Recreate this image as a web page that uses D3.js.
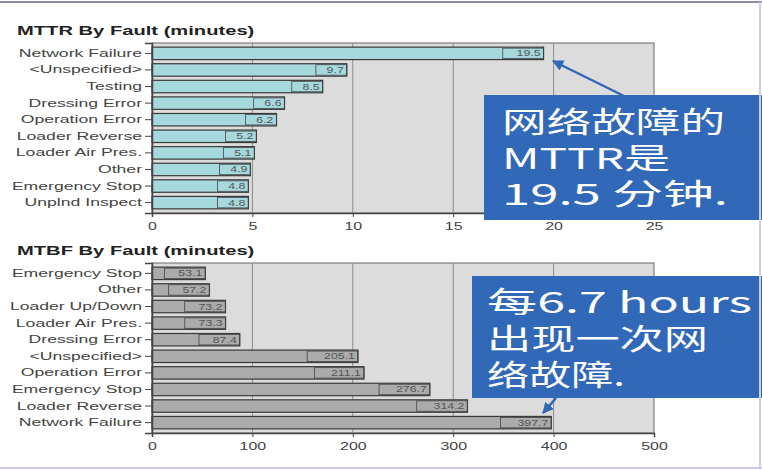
<!doctype html>
<html>
<head>
<meta charset="utf-8">
<style>
    body { margin: 0; background: #fff; }
    svg { display: block; }
    text { font-family: Arial, 'Liberation Sans', sans-serif; fill: #333; }
    text.title { font-size: 13px; font-weight: bold; fill: #222; }
    text.cat, .axis text { font-size: 11px; fill: #444; }
    text.val { font-size: 8.5px; fill: #555; }
    text.note { font-family: 'Noto Sans CJK SC', sans-serif; font-size: 29px; fill: #fff; }
    .grid line { stroke: #8a8a8a; stroke-width: 1; }
    .axis path, .axis line { stroke: #444; }
</style>
<script src="https://d3js.org/d3.v7.min.js"></script>
</head>
<body>
<svg width="762" height="470"></svg>
<script>
// MTTR chart (minutes)
const mttrCats = ['Network Failure', '<Unspecified>', 'Testing', 'Dressing Error', 'Operation Error',
                  'Loader Reverse', 'Loader Air Pres.', 'Other', 'Emergency Stop', 'Unplnd Inspect'];
const mttrVals = [19.5, 9.7, 8.5, 6.6, 6.2, 5.2, 5.1, 4.9, 4.8, 4.8];
const mttrTicks = [0, 5, 10, 15, 20, 25];

// MTBF chart (minutes)
const mtbfCats = ['Emergency Stop', 'Other', 'Loader Up/Down', 'Loader Air Pres.', 'Dressing Error',
                  '<Unspecified>', 'Operation Error', 'Emergency Stop', 'Loader Reverse', 'Network Failure'];
const mtbfVals = [53.1, 57.2, 73.2, 73.3, 87.4, 205.1, 211.1, 276.7, 314.2, 397.7];
const mtbfTicks = [0, 100, 200, 300, 400, 500];

const notes = [
    ['网络故障的', 'MTTR是', '19.5 分钟.'],
    ['每6.7 hours', '出现一次网', '络故障.']
];

const svg = d3.select('svg');
const stretch = 1.45;  // source picture is widened horizontally

function widen(sel, k) {
    sel.each(function () {
        const w = this.getComputedTextLength();
        d3.select(this).attr('textLength', w * (k || stretch)).attr('lengthAdjust', 'spacingAndGlyphs');
    });
}

function drawChart(opt) {
    const left = 152, right = 654;
    const x = d3.scaleLinear().domain([0, opt.max]).range([left, right]);
    const y = d3.scaleBand().domain(opt.cats.map((c, i) => i)).range([opt.top, opt.bottom]).padding(0.25);

    svg.append('text').attr('class', 'title')
        .attr('x', 17).attr('y', opt.top - 8)
        .text(opt.title).call(widen, 1.55);

    svg.append('rect')
        .attr('x', left).attr('y', opt.top)
        .attr('width', right - left).attr('height', opt.bottom - opt.top)
        .attr('fill', '#dcdcdc').attr('stroke', '#666');

    svg.append('g').attr('class', 'grid')
        .selectAll('line').data(opt.ticks.slice(1, -1)).join('line')
        .attr('x1', d => x(d)).attr('x2', d => x(d))
        .attr('y1', opt.top).attr('y2', opt.bottom);

    const bars = svg.append('g').selectAll('g').data(opt.vals).join('g');
    bars.append('rect')
        .attr('x', left).attr('y', (d, i) => y(i))
        .attr('width', d => x(d) - left).attr('height', y.bandwidth())
        .attr('fill', opt.fill).attr('stroke', '#3a3a3a').attr('stroke-width', 1.2);

    const vt = bars.append('text').attr('class', 'val')
        .attr('x', d => x(d) - 3).attr('y', (d, i) => y(i) + y.bandwidth() / 2 + 3)
        .attr('text-anchor', 'end')
        .text(d => d.toFixed(1)).call(widen);
    bars.insert('rect', 'text')
        .attr('x', function (d, i) { return x(d) - vt.nodes()[i].getComputedTextLength() * stretch - 6; })
        .attr('y', (d, i) => y(i) + 1)
        .attr('width', (d, i) => vt.nodes()[i].getComputedTextLength() * stretch + 6)
        .attr('height', y.bandwidth() - 2)
        .attr('fill', 'none').attr('stroke', '#444').attr('stroke-width', 0.8);

    const ya = svg.append('g').attr('class', 'axis')
        .attr('transform', `translate(${left},0)`)
        .call(d3.axisLeft(y).tickSize(7).tickPadding(3).tickFormat(i => opt.cats[i]));
    ya.selectAll('text').attr('class', 'cat').call(widen, 1.6);
    ya.select('.domain').attr('stroke-width', 1.5);

    const xa = svg.append('g').attr('class', 'axis')
        .attr('transform', `translate(0,${opt.bottom})`)
        .call(d3.axisBottom(x).tickValues(opt.ticks).tickSize(4).tickPadding(5));
    xa.select('.domain').attr('stroke-width', 1.5);
    xa.selectAll('text').call(widen);
}

drawChart({ title: 'MTTR By Fault (minutes)', cats: mttrCats, vals: mttrVals, ticks: mttrTicks,
            max: 25, top: 43, bottom: 213, fill: '#a6d9dd' });
drawChart({ title: 'MTBF By Fault (minutes)', cats: mtbfCats, vals: mtbfVals, ticks: mtbfTicks,
            max: 500, top: 263, bottom: 433, fill: '#ababab' });

// callouts
const blue = '#3168b8';
svg.append('defs').append('marker')
    .attr('id', 'head').attr('viewBox', '0 0 10 10')
    .attr('refX', 9).attr('refY', 5)
    .attr('markerWidth', 4.5).attr('markerHeight', 4.5)
    .attr('orient', 'auto')
    .append('path').attr('d', 'M0,0L10,5L0,10z').attr('fill', blue);

svg.append('line')
    .attr('x1', 624).attr('y1', 96).attr('x2', 553).attr('y2', 61)
    .attr('stroke', blue).attr('stroke-width', 2.5).attr('marker-end', 'url(#head)');
svg.append('line')
    .attr('x1', 556).attr('y1', 398).attr('x2', 543).attr('y2', 413)
    .attr('stroke', blue).attr('stroke-width', 2.5).attr('marker-end', 'url(#head)');

const boxes = [
    { x: 484, y: 95, h: 125, tx: 502, ty: [133, 169, 205], tw: [223, 168, 226] },
    { x: 472, y: 276, h: 122, tx: 487, ty: [313, 350, 386], tw: [265, 221, 138] }
];
boxes.forEach((b, k) => {
    svg.append('rect').attr('x', b.x).attr('y', b.y)
        .attr('width', 762 - b.x).attr('height', b.h).attr('fill', blue);
    notes[k].forEach((line, j) => {
        svg.append('text').attr('class', 'note')
            .attr('x', b.tx).attr('y', b.ty[j])
            .attr('textLength', b.tw[j]).attr('lengthAdjust', 'spacingAndGlyphs')
            .text(line);
    });
});

// frame
svg.append('line').attr('x1', 0).attr('x2', 762).attr('y1', 2).attr('y2', 2)
    .attr('stroke', '#8c89a8').attr('stroke-width', 2);
svg.append('line').attr('x1', 760).attr('x2', 760).attr('y1', 2).attr('y2', 468)
    .attr('stroke', '#cfcfe0').attr('stroke-width', 2);
svg.append('line').attr('x1', 0).attr('x2', 762).attr('y1', 468).attr('y2', 468)
    .attr('stroke', '#cdc9ec').attr('stroke-width', 2);
</script>
</body>
</html>
